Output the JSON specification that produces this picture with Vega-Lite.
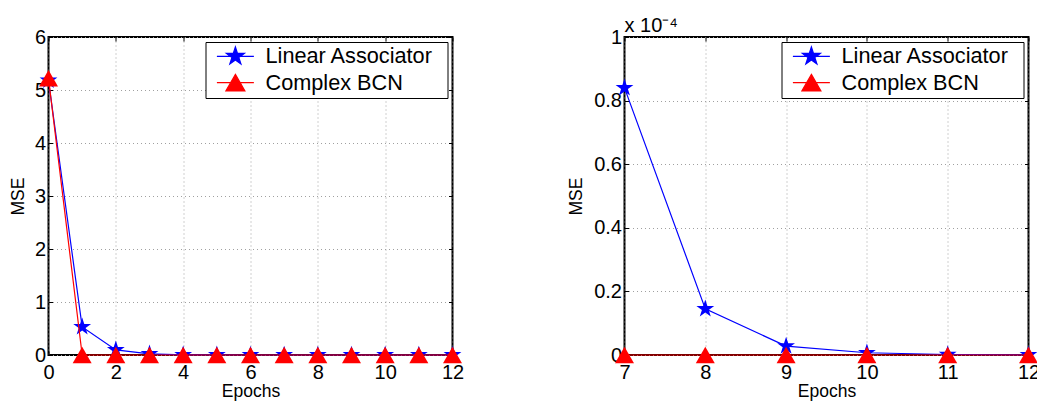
{
  "$schema": "https://vega.github.io/schema/vega-lite/v6.json",
  "autosize": {"type": "pad"},
  "padding": {"left": 8.5, "top": 15, "right": 0, "bottom": 0},
  "background": "white",
  "config": {
    "font": "Liberation Sans",
    "view": {"stroke": "black", "strokeWidth": 2},
    "axis": {
      "labelFont": "Liberation Sans",
      "labelFontSize": 20,
      "labelColor": "black",
      "titleFont": "Liberation Sans",
      "titleFontSize": 17.5,
      "titleFontWeight": "normal",
      "titleColor": "black",
      "domain": false,
      "tickColor": "black",
      "tickSize": -4,
      "tickWidth": 1,
      "gridColor": "#a0a0a0",
      "gridDash": [1, 3],
      "gridOpacity": 1,
      "labelFlush": false,
      "labelOverlap": false,
      "labelBound": false
    },
    "legend": {
      "labelFont": "Liberation Sans"
    }
  },
  "datasets": {
    "mse": [
      {"epoch": 0, "series": "Linear Associator", "mse": 5.18},
      {"epoch": 1, "series": "Linear Associator", "mse": 0.53},
      {"epoch": 2, "series": "Linear Associator", "mse": 0.095},
      {"epoch": 3, "series": "Linear Associator", "mse": 0.022},
      {"epoch": 4, "series": "Linear Associator", "mse": 0.004},
      {"epoch": 5, "series": "Linear Associator", "mse": 0.0009},
      {"epoch": 6, "series": "Linear Associator", "mse": 0.0003},
      {"epoch": 7, "series": "Linear Associator", "mse": 0.000084},
      {"epoch": 8, "series": "Linear Associator", "mse": 0.0000145},
      {"epoch": 9, "series": "Linear Associator", "mse": 0.0000028},
      {"epoch": 10, "series": "Linear Associator", "mse": 0.0000007},
      {"epoch": 11, "series": "Linear Associator", "mse": 0.00000015},
      {"epoch": 12, "series": "Linear Associator", "mse": 0.00000004},
      {"epoch": 0, "series": "Complex BCN", "mse": 5.22},
      {"epoch": 1, "series": "Complex BCN", "mse": 0},
      {"epoch": 2, "series": "Complex BCN", "mse": 0},
      {"epoch": 3, "series": "Complex BCN", "mse": 0},
      {"epoch": 4, "series": "Complex BCN", "mse": 0},
      {"epoch": 5, "series": "Complex BCN", "mse": 0},
      {"epoch": 6, "series": "Complex BCN", "mse": 0},
      {"epoch": 7, "series": "Complex BCN", "mse": 0},
      {"epoch": 8, "series": "Complex BCN", "mse": 0},
      {"epoch": 9, "series": "Complex BCN", "mse": 0},
      {"epoch": 10, "series": "Complex BCN", "mse": 0},
      {"epoch": 11, "series": "Complex BCN", "mse": 0},
      {"epoch": 12, "series": "Complex BCN", "mse": 0}
    ]
  },
  "spacing": 172,
  "bounds": "flush",
  "resolve": {"scale": {"color": "independent"}, "legend": {"color": "independent"}},
  "hconcat": [
    {
      "width": 404,
      "height": 318,
      "data": {"name": "mse"},
      "layer": [
        {
          "transform": [{"filter": "datum.series === 'Linear Associator'"}],
          "mark": {"type": "line", "strokeWidth": 1.2},
          "encoding": {
            "x": {"field": "epoch", "type": "quantitative", "scale": {"domain": [0, 12], "nice": false, "zero": false},
              "axis": {"orient": "bottom", "values": [0, 2, 4, 6, 8, 10, 12], "grid": true, "title": "Epochs", "labelPadding": 11, "titlePadding": 0}},
            "y": {"field": "mse", "type": "quantitative", "scale": {"domain": [0, 6], "nice": false},
              "axis": {"orient": "left", "values": [0, 1, 2, 3, 4, 5, 6], "grid": true, "title": "MSE", "labelPadding": 7, "titlePadding": 6.5}},
            "color": {"field": "series", "type": "nominal",
              "scale": {"domain": ["Linear Associator", "Complex BCN"], "range": ["#0000ff", "#ff0000"]},
              "legend": {
                "title": null,
                "orient": "top-right", "offset": 5, "padding": 3.5, "rowPadding": 3.3,
                "strokeColor": "black", "fillColor": "white",
                "labelFontSize": 21.7, "labelColor": "black", "labelOffset": 34.8, "labelLimit": 400,
                "symbolSize": 342,
                "encode": {
                  "symbols": {"update": {
                    "shape": {"signal": "datum.value === 'Linear Associator' ? 'M-0.32,0H3.68M1.68,-1.02L1.909,-0.315L2.65,-0.315L2.05,0.12L2.28,0.825L1.68,0.39L1.08,0.825L1.31,0.12L0.71,-0.315L1.451,-0.315ZM23.95,0' : 'M-0.32,0H3.68M1.68,-0.892L2.707,0.892L0.653,0.892ZM23.95,0'"},
                    "fill": {"signal": "datum.value === 'Linear Associator' ? '#0000ff' : '#ff0000'"},
                    "stroke": {"signal": "datum.value === 'Linear Associator' ? '#0000ff' : '#ff0000'"},
                    "strokeWidth": {"value": 1.2},
                    "opacity": {"value": 1}
                  }}
                }
              }}
          }
        },
        {
          "transform": [{"filter": "datum.series === 'Linear Associator'"}],
          "mark": {"type": "point", "shape": "M0,-1L0.2245,-0.309L0.951,-0.309L0.363,0.118L0.588,0.809L0,0.382L-0.588,0.809L-0.363,0.118L-0.951,-0.309L-0.2245,-0.309Z", "filled": true, "size": 350, "opacity": 1},
          "encoding": {
            "x": {"field": "epoch", "type": "quantitative", "scale": {"domain": [0, 12], "nice": false, "zero": false},
              "axis": {"orient": "top", "values": [0, 2, 4, 6, 8, 10, 12], "labels": false, "grid": false, "title": null}},
            "y": {"field": "mse", "type": "quantitative", "scale": {"domain": [0, 6], "nice": false},
              "axis": {"orient": "right", "values": [0, 1, 2, 3, 4, 5, 6], "labels": false, "grid": false, "title": null}},
            "color": {"field": "series", "type": "nominal", "legend": null}
          }
        },
        {
          "transform": [{"filter": "datum.series === 'Complex BCN'"}],
          "mark": {"type": "line", "strokeWidth": 1.2},
          "encoding": {
            "x": {"field": "epoch", "type": "quantitative", "scale": {"domain": [0, 12], "nice": false, "zero": false}, "axis": null},
            "y": {"field": "mse", "type": "quantitative", "scale": {"domain": [0, 6], "nice": false}, "axis": null},
            "color": {"field": "series", "type": "nominal", "legend": null}
          }
        },
        {
          "transform": [{"filter": "datum.series === 'Complex BCN'"}],
          "mark": {"type": "point", "shape": "triangle-up", "filled": true, "size": 361, "opacity": 1},
          "encoding": {
            "x": {"field": "epoch", "type": "quantitative", "scale": {"domain": [0, 12], "nice": false, "zero": false}, "axis": null},
            "y": {"field": "mse", "type": "quantitative", "scale": {"domain": [0, 6], "nice": false}, "axis": null},
            "color": {"field": "series", "type": "nominal", "legend": null}
          }
        }
      ]
    },
    {
      "width": 404,
      "height": 318,
      "data": {"name": "mse"},
      "transform": [{"filter": "datum.epoch >= 7"}],
      "title": {"text": "x 10⁻⁴", "anchor": "start", "frame": "group", "fontSize": 20, "fontWeight": "normal", "color": "black", "font": "Liberation Sans", "offset": -9},
      "layer": [
        {
          "transform": [{"filter": "datum.series === 'Linear Associator'"}],
          "mark": {"type": "line", "strokeWidth": 1.2},
          "encoding": {
            "x": {"field": "epoch", "type": "quantitative", "scale": {"domain": [7, 12], "nice": false, "zero": false},
              "axis": {"orient": "bottom", "values": [7, 8, 9, 10, 11, 12], "grid": true, "title": "Epochs", "labelPadding": 11, "titlePadding": 0}},
            "y": {"field": "mse", "type": "quantitative", "scale": {"domain": [0, 0.0001], "nice": false},
              "axis": {"orient": "left", "values": [0, 0.00002, 0.00004, 0.00006, 0.00008, 0.0001], "labelExpr": "format(datum.value * 10000, '~g')", "grid": true, "title": "MSE", "labelPadding": 7, "titlePadding": 8}},
            "color": {"field": "series", "type": "nominal",
              "scale": {"domain": ["Linear Associator", "Complex BCN"], "range": ["#0000ff", "#ff0000"]},
              "legend": {
                "title": null,
                "orient": "top-right", "offset": 5, "padding": 3.5, "rowPadding": 3.3,
                "strokeColor": "black", "fillColor": "white",
                "labelFontSize": 21.7, "labelColor": "black", "labelOffset": 34.8, "labelLimit": 400,
                "symbolSize": 342,
                "encode": {
                  "symbols": {"update": {
                    "shape": {"signal": "datum.value === 'Linear Associator' ? 'M-0.32,0H3.68M1.68,-1.02L1.909,-0.315L2.65,-0.315L2.05,0.12L2.28,0.825L1.68,0.39L1.08,0.825L1.31,0.12L0.71,-0.315L1.451,-0.315ZM23.95,0' : 'M-0.32,0H3.68M1.68,-0.892L2.707,0.892L0.653,0.892ZM23.95,0'"},
                    "fill": {"signal": "datum.value === 'Linear Associator' ? '#0000ff' : '#ff0000'"},
                    "stroke": {"signal": "datum.value === 'Linear Associator' ? '#0000ff' : '#ff0000'"},
                    "strokeWidth": {"value": 1.2},
                    "opacity": {"value": 1}
                  }}
                }
              }}
          }
        },
        {
          "transform": [{"filter": "datum.series === 'Linear Associator'"}],
          "mark": {"type": "point", "shape": "M0,-1L0.2245,-0.309L0.951,-0.309L0.363,0.118L0.588,0.809L0,0.382L-0.588,0.809L-0.363,0.118L-0.951,-0.309L-0.2245,-0.309Z", "filled": true, "size": 350, "opacity": 1},
          "encoding": {
            "x": {"field": "epoch", "type": "quantitative", "scale": {"domain": [7, 12], "nice": false, "zero": false},
              "axis": {"orient": "top", "values": [7, 8, 9, 10, 11, 12], "labels": false, "grid": false, "title": null}},
            "y": {"field": "mse", "type": "quantitative", "scale": {"domain": [0, 0.0001], "nice": false},
              "axis": {"orient": "right", "values": [0, 0.00002, 0.00004, 0.00006, 0.00008, 0.0001], "labels": false, "grid": false, "title": null}},
            "color": {"field": "series", "type": "nominal", "legend": null}
          }
        },
        {
          "transform": [{"filter": "datum.series === 'Complex BCN'"}],
          "mark": {"type": "line", "strokeWidth": 1.2},
          "encoding": {
            "x": {"field": "epoch", "type": "quantitative", "scale": {"domain": [7, 12], "nice": false, "zero": false}, "axis": null},
            "y": {"field": "mse", "type": "quantitative", "scale": {"domain": [0, 0.0001], "nice": false}, "axis": null},
            "color": {"field": "series", "type": "nominal", "legend": null}
          }
        },
        {
          "transform": [{"filter": "datum.series === 'Complex BCN'"}],
          "mark": {"type": "point", "shape": "triangle-up", "filled": true, "size": 361, "opacity": 1},
          "encoding": {
            "x": {"field": "epoch", "type": "quantitative", "scale": {"domain": [7, 12], "nice": false, "zero": false}, "axis": null},
            "y": {"field": "mse", "type": "quantitative", "scale": {"domain": [0, 0.0001], "nice": false}, "axis": null},
            "color": {"field": "series", "type": "nominal", "legend": null}
          }
        }
      ]
    }
  ]
}
